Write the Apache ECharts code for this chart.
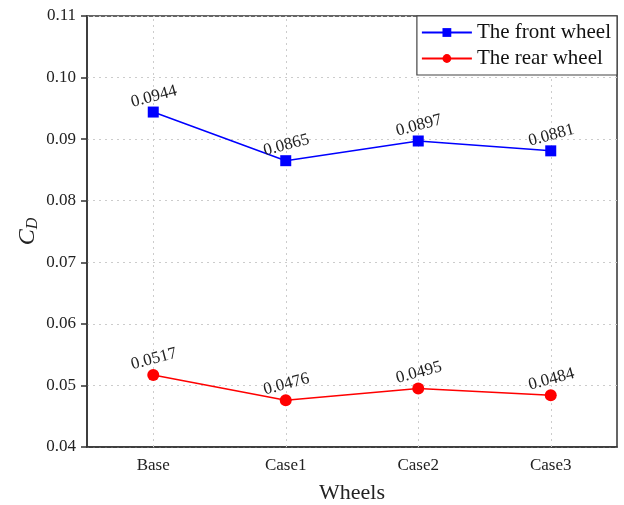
<!DOCTYPE html>
<html><head><meta charset="utf-8">
<script src="https://cdn.jsdelivr.net/npm/echarts@6/dist/echarts.min.js"></script>
<style>html,body{margin:0;padding:0;background:#fff}#c{width:624px;height:505px}</style>
</head><body><div id="c"></div>
<script>
const categories = ['Base', 'Case1', 'Case2', 'Case3'];
const frontWheel = [0.0944, 0.0865, 0.0897, 0.0881];
const rearWheel = [0.0517, 0.0476, 0.0495, 0.0484];
const yTicks = { min: 0.04, max: 0.11, interval: 0.01 };
const font = 'Liberation Serif';

const chart = echarts.init(document.getElementById('c'), null, { renderer: 'canvas' });
const labelCfg = {
  show: true, position: 'top', rotate: 15, distance: 1, offset: [3, 0],
  fontFamily: font, fontSize: 17, color: '#222',
  formatter: p => p.value.toFixed(4)
};
chart.setOption({
  animation: false,
  backgroundColor: '#fff',
  grid: { left: 87, right: 7, top: 16, bottom: 58, outerBoundsMode: 'none', containLabel: false,
          show: true, borderColor: '#333', borderWidth: 1.5, backgroundColor: 'transparent' },
  legend: {
    right: 7, top: 16, orient: 'vertical', itemGap: 5,
    backgroundColor: '#fff', borderColor: '#444', borderWidth: 1.2,
    padding: [6, 6, 6, 4], itemWidth: 50, itemHeight: 11,
    textStyle: { fontFamily: font, fontSize: 21, color: '#111' },
    data: ['The front wheel', 'The rear wheel']
  },
  xAxis: {
    type: 'category', data: categories, boundaryGap: true,
    name: 'Wheels', nameLocation: 'middle', nameGap: 35,
    nameTextStyle: { fontFamily: font, fontSize: 22, color: '#222' },
    axisLine: { lineStyle: { color: '#333', width: 1.5 } },
    axisTick: { alignWithLabel: true, length: 6, inside: false, lineStyle: { color: '#333', width: 1.5 } },
    axisLabel: { fontFamily: font, fontSize: 17, color: '#222', margin: 10 },
    splitLine: { show: false }
  },
  yAxis: {
    type: 'value', min: yTicks.min, max: yTicks.max, interval: yTicks.interval,
    name: '{i|C}{s|D}', nameLocation: 'middle', nameGap: 46, nameRotate: 90, nameMoveOverlap: false,
    nameTextStyle: { rich: {
      i: { fontFamily: font, fontSize: 24, fontStyle: 'italic', color: '#222' },
      s: { fontFamily: font, fontSize: 16, fontStyle: 'italic', color: '#222', verticalAlign: 'bottom', padding: [10, 0, 0, 0] }
    } },
    axisLine: { show: true, lineStyle: { color: '#333', width: 1.5 } },
    axisTick: { show: true, length: 6, lineStyle: { color: '#333', width: 1.5 } },
    axisLabel: { fontFamily: font, fontSize: 17, color: '#222', margin: 11, formatter: v => v.toFixed(2) },
    splitLine: { show: true, lineStyle: { color: '#ccc', type: [2, 4], width: 1 } }
  },
  series: [
    { name: 'The front wheel', type: 'line', data: frontWheel, symbol: 'rect', symbolSize: 11, z: 3,
      itemStyle: { color: '#0000ff' }, lineStyle: { color: '#0000ff', width: 1.5 }, label: labelCfg,
      markLine: { silent: true, symbol: 'none', label: { show: false }, z: 1,
        lineStyle: { color: '#ccc', type: [2, 4], width: 1 },
        data: categories.map(c => ({ xAxis: c })) } },
    { name: 'The rear wheel', type: 'line', data: rearWheel, symbol: 'circle', symbolSize: 12, z: 3,
      itemStyle: { color: '#ff0000' }, lineStyle: { color: '#ff0000', width: 1.5 }, label: labelCfg }
  ]
});
</script></body></html>
